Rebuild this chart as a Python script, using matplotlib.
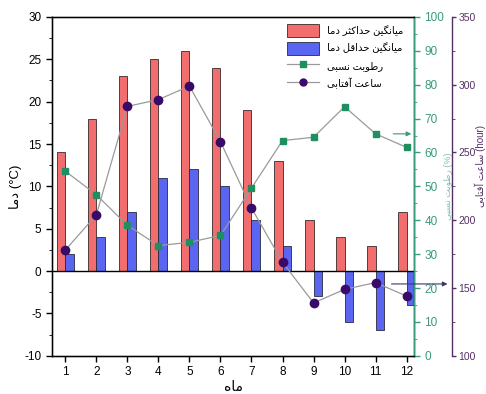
import numpy as np
import matplotlib
matplotlib.use("Agg")
import matplotlib.pyplot as plt
from matplotlib.patches import Patch
from matplotlib.lines import Line2D
from matplotlib.ticker import MultipleLocator

plt.rcParams["font.family"] = ["Liberation Sans", "DejaVu Sans"]
plt.rcParams["axes.unicode_minus"] = False

months = [1, 2, 3, 4, 5, 6, 7, 8, 9, 10, 11, 12]
t_max = [14, 18, 23, 25, 26, 24, 19, 13, 6, 4, 3, 7]
t_min = [2, 4, 7, 11, 12, 10, 6, 3, -3, -6, -7, -4]
humidity = [54.5, 47.5, 38.5, 32.5, 33.5, 35.5, 49.5, 63.5, 64.5, 73.5, 65.5, 61.5]
sunshine = [178, 204, 284, 289, 299, 258, 209, 169, 139, 149, 154, 144]

label_tmax = "میانگین حداکثر دما"
label_tmin = "میانگین حداقل دما"
label_hum = "رطوبت نسبی"
label_sun = "ساعت آفتابی"
label_x = "ماه"
label_temp = "دما"

# minimal Persian shaping (matplotlib has no bidi / contextual forms)
FORMS = {
    "ا": ("\uFE8D", "\uFE8E", None, None),
    "آ": ("\uFE81", "\uFE82", None, None),
    "ب": ("\uFE8F", "\uFE90", "\uFE91", "\uFE92"),
    "ت": ("\uFE95", "\uFE96", "\uFE97", "\uFE98"),
    "ث": ("\uFE99", "\uFE9A", "\uFE9B", "\uFE9C"),
    "ح": ("\uFEA1", "\uFEA2", "\uFEA3", "\uFEA4"),
    "د": ("\uFEA9", "\uFEAA", None, None),
    "ر": ("\uFEAD", "\uFEAE", None, None),
    "س": ("\uFEB1", "\uFEB2", "\uFEB3", "\uFEB4"),
    "ط": ("\uFEC1", "\uFEC2", "\uFEC3", "\uFEC4"),
    "ع": ("\uFEC9", "\uFECA", "\uFECB", "\uFECC"),
    "ف": ("\uFED1", "\uFED2", "\uFED3", "\uFED4"),
    "ق": ("\uFED5", "\uFED6", "\uFED7", "\uFED8"),
    "ل": ("\uFEDD", "\uFEDE", "\uFEDF", "\uFEE0"),
    "م": ("\uFEE1", "\uFEE2", "\uFEE3", "\uFEE4"),
    "ن": ("\uFEE5", "\uFEE6", "\uFEE7", "\uFEE8"),
    "ه": ("\uFEE9", "\uFEEA", "\uFEEB", "\uFEEC"),
    "و": ("\uFEED", "\uFEEE", None, None),
    "ی": ("\uFBFC", "\uFBFD", "\uFBFE", "\uFBFF"),
    "ک": ("\uFB8E", "\uFB8F", "\uFB90", "\uFB91"),
    "گ": ("\uFB92", "\uFB93", "\uFB94", "\uFB95"),
}


def shape(s):
    out = []
    for i, c in enumerate(s):
        if c not in FORMS:
            out.append(c)
            continue
        f = FORMS[c]
        prev = s[i - 1] if i > 0 else ""
        nxt = s[i + 1] if i + 1 < len(s) else ""
        jp = prev in FORMS and FORMS[prev][2] is not None
        jn = f[2] is not None and nxt in FORMS
        if jp and jn:
            out.append(f[3])
        elif jp:
            out.append(f[1])
        elif jn:
            out.append(f[2])
        else:
            out.append(f[0])
    return "".join(reversed(out))


RED = "#f26e6e"
BLUE = "#5a66f2"
GREEN = "#1f8f62"
GREEN_AX = "#3a9a7e"
PURPLE = "#3a0a6a"
PURPLE_AX = "#553064"
LINE = "#9a9a9a"

fig = plt.figure(figsize=(4.86, 3.94), dpi=100)
ax = fig.add_axes([0.107, 0.097, 0.745, 0.86])

x = np.array(months)
w = 0.27
ax.bar(x - w / 2, t_max, w, color=RED, edgecolor="#3a2a2a", lw=0.6, zorder=2)
ax.bar(x + w / 2, t_min, w, color=BLUE, edgecolor="#2a2a3a", lw=0.6, zorder=2)
ax.axhline(0, color="black", lw=1.0, zorder=3)

ax.set_xlim(0.57, 12.24)
ax.set_ylim(-10, 30)
ax.set_xticks(months)
ax.yaxis.set_major_locator(MultipleLocator(5))
ax.yaxis.set_minor_locator(MultipleLocator(2.5))
ax.tick_params(axis="both", labelsize=8.5, direction="out", length=4, width=1)
ax.tick_params(axis="y", which="minor", length=2.5)
for sp in ax.spines.values():
    sp.set_linewidth(1.0)
ax.set_xlabel(shape(label_x), fontsize=10, labelpad=1)
ax.set_ylabel(shape(label_temp) + " (°C)", fontsize=9.5, labelpad=2)

# humidity axis
ax2 = ax.twinx()
ax2.plot(x, humidity, color=LINE, lw=0.9, marker="s", ms=5,
         mfc=GREEN, mec=GREEN, zorder=4)
ax2.set_ylim(0, 100)
ax2.yaxis.set_major_locator(MultipleLocator(10))
ax2.yaxis.set_minor_locator(MultipleLocator(5))
ax2.spines["right"].set_color(GREEN_AX)
ax2.spines["right"].set_linewidth(1.0)
ax2.tick_params(axis="y", colors=GREEN_AX, labelsize=8.5, length=4, width=1)
ax2.tick_params(axis="y", which="minor", colors=GREEN_AX, length=2.5)
ax2.set_ylabel(shape(label_hum) + " (%)", color="#7fc0a8", fontsize=6.5,
               rotation=90, labelpad=0)
ax2.annotate("", xy=(1.0, 65.5), xytext=(0.935, 65.5),
             xycoords=("axes fraction", "data"),
             arrowprops=dict(arrowstyle="-|>", color=GREEN_AX, lw=0.8,
                             mutation_scale=7),
             annotation_clip=False)

# sunshine axis
ax3 = ax.twinx()
ax3.spines["right"].set_position(("axes", 1.105))
ax3.plot(x, sunshine, color=LINE, lw=0.9, marker="o", ms=6,
         mfc=PURPLE, mec=PURPLE, zorder=4)
ax3.set_ylim(100, 350)
ax3.yaxis.set_major_locator(MultipleLocator(50))
ax3.yaxis.set_minor_locator(MultipleLocator(25))
ax3.spines["right"].set_color(PURPLE_AX)
ax3.spines["right"].set_linewidth(1.0)
ax3.tick_params(axis="y", colors=PURPLE_AX, labelsize=7.5, length=3,
                width=1, pad=1.5)
ax3.tick_params(axis="y", which="minor", colors=PURPLE_AX, length=2)
ax3.set_ylabel(shape(label_sun) + " (hour)", color=PURPLE_AX, fontsize=7,
               rotation=90)
ax3.yaxis.set_label_coords(1.168, 0.56)
ax3.annotate("", xy=(1.1, 153), xytext=(0.93, 153),
             xycoords=("axes fraction", "data"),
             arrowprops=dict(arrowstyle="-|>", color="#3a3a6a", lw=0.8,
                             mutation_scale=7),
             annotation_clip=False)

handles = [
    Patch(facecolor=RED, edgecolor="#3a2a2a", lw=0.6),
    Patch(facecolor=BLUE, edgecolor="#2a2a3a", lw=0.6),
    Line2D([], [], color=LINE, lw=0.9, marker="s", ms=5, mfc=GREEN, mec=GREEN),
    Line2D([], [], color=LINE, lw=0.9, marker="o", ms=5, mfc=PURPLE, mec=PURPLE),
]
labels = [shape(label_tmax), shape(label_tmin), shape(label_hum), shape(label_sun)]
leg = ax.legend(handles, labels, loc="upper right", bbox_to_anchor=(0.99, 1.0),
                frameon=False, fontsize=7.2, handlelength=3.2, handleheight=1.6,
                labelspacing=0.5, borderaxespad=0.3)
leg.set_zorder(5)

fig.savefig("out.png", dpi=100)
